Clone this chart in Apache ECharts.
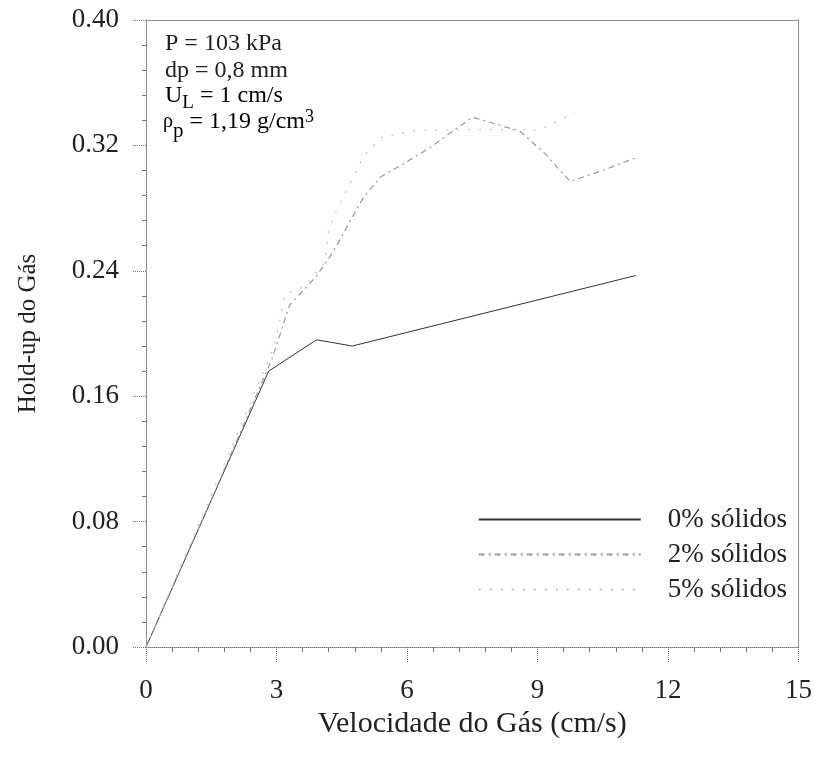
<!DOCTYPE html>
<html>
<head>
<meta charset="utf-8">
<script src="https://cdn.jsdelivr.net/npm/echarts@6/dist/echarts.min.js"></script>
<style>
html,body{margin:0;padding:0;background:#fff;}
#c{width:815px;height:759px;}
</style>
</head>
<body>
<div id="c"></div>
<script>
const seriesNames = ['0% sólidos', '2% sólidos', '5% sólidos'];
const xTicks = [0, 3, 6, 9, 12, 15];
const yTicks = [0.00, 0.08, 0.16, 0.24, 0.32, 0.40];

const solids0 = [[0,0],[2.82,0.176],[3.92,0.196],[4.74,0.192],[11.26,0.237]];
const solids2 = [[0,0],[1.5,0.094],[2.9,0.184],[3.3,0.218],[3.9,0.236],[4.3,0.252],[4.6,0.267],[5.0,0.287],[5.4,0.300],[5.9,0.308],[6.5,0.318],[7.1,0.330],[7.5,0.338],[8.0,0.334],[8.6,0.329],[9.2,0.314],[9.75,0.297],[10.5,0.304],[11.25,0.312]];
const solids5 = [[0,0],[1.5,0.097],[2.95,0.192],[3.2,0.225],[3.65,0.230],[4.1,0.245],[4.2,0.267],[4.4,0.280],[4.7,0.296],[5.0,0.313],[5.4,0.325],[5.9,0.328],[6.3,0.330],[9.05,0.330],[9.3,0.333],[9.85,0.341]];

const annotation = ['P = 103 kPa', 'dp = 0,8 mm'];

const serif = '"Liberation Serif", "DejaVu Serif", serif';
const chart = echarts.init(document.getElementById('c'), null, {renderer: 'canvas'});

const frameLine = {show: true, onZero: false, lineStyle: {color: '#777', width: 1, type: [1, 1]}};

chart.setOption({
  backgroundColor: '#fff',
  animation: false,
  textStyle: {fontFamily: serif},
  grid: {left: 146, right: 13, top: 20, bottom: 112, containLabel: false},
  legend: {
    orient: 'vertical',
    right: 23,
    top: 501,
    itemWidth: 162,
    itemHeight: 14,
    itemGap: 8,
    itemStyle: {opacity: 0},
    lineStyle: {opacity: 1},
    textStyle: {fontFamily: serif, fontSize: 27, color: '#222', padding: [0, 0, 0, 22]},
    data: seriesNames
  },
  xAxis: [{
    type: 'value', min: 0, max: 15, interval: 3,
    name: 'Velocidade do Gás (cm/s)', nameLocation: 'middle', nameGap: 51,
    nameTextStyle: {fontFamily: serif, fontSize: 30, color: '#222'},
    axisLine: frameLine,
    axisTick: {show: true, inside: false, length: 15, lineStyle: {color: '#777', type: [1,1]}},
    minorTick: {show: true, splitNumber: 5, length: 5, lineStyle: {color: '#777'}},
    axisLabel: {fontFamily: serif, fontSize: 27, color: '#222', margin: 30,
      formatter: v => xTicks.includes(v) ? String(v) : ''},
    splitLine: {show: false}
  }, {
    type: 'value', min: 0, max: 15, position: 'top',
    axisLine: frameLine, axisTick: {show: false}, axisLabel: {show: false}, splitLine: {show: false}
  }],
  yAxis: [{
    type: 'value', min: 0, max: 0.4, interval: 0.08,
    name: 'Hold-up do Gás', nameLocation: 'middle', nameGap: 105, nameRotate: 90,
    nameTextStyle: {fontFamily: serif, fontSize: 25, color: '#222'},
    axisLine: frameLine,
    axisTick: {show: true, inside: false, length: 14, lineStyle: {color: '#777', type: [1,1]}},
    minorTick: {show: true, splitNumber: 5, length: 4, lineStyle: {color: '#777'}},
    axisLabel: {fontFamily: serif, fontSize: 27, color: '#222', margin: 27,
      formatter: v => yTicks.some(t => Math.abs(t - v) < 1e-9) ? v.toFixed(2) : ''},
    splitLine: {show: false}
  }, {
    type: 'value', min: 0, max: 0.4, position: 'right',
    axisLine: frameLine, axisTick: {show: false}, axisLabel: {show: false}, splitLine: {show: false}
  }],
  series: [
    {name: seriesNames[0], type: 'line', data: solids0, symbol: 'none', smooth: false,
      lineStyle: {color: '#333', width: 1}, itemStyle: {color: '#333'}},
    {name: seriesNames[1], type: 'line', data: solids2, symbol: 'none', smooth: false,
      lineStyle: {color: '#9a9a9a', width: 1.2, type: [6, 4, 2, 4]}, itemStyle: {color: '#9a9a9a'}},
    {name: seriesNames[2], type: 'line', data: solids5, symbol: 'none', smooth: false,
      lineStyle: {color: '#c0c0c0', width: 1.2, type: [2, 9]}, itemStyle: {color: '#c0c0c0'}}
  ],
  graphic: [
    {type: 'text', left: 165, top: 32, style: {text: annotation[0], font: '24px ' + serif, fill: '#222'}},
    {type: 'text', left: 165, top: 59, style: {text: annotation[1], font: '24px ' + serif, fill: '#222'}},
    {type: 'text', left: 165, top: 84, style: {
      text: '{a|U}{s|L}{a| = 1 cm/s}',
      rich: {a: {fontFamily: serif, fontSize: 24, color: '#222'},
             s: {fontFamily: serif, fontSize: 19, color: '#222', padding: [14, 0, 0, 0]}}}},
    {type: 'text', left: 163, top: 108, style: {
      text: '{r|ρ}{s|p}{a| = 1,19 g/cm}{u|3}',
      rich: {a: {fontFamily: serif, fontSize: 24, color: '#222'},
             r: {fontFamily: serif, fontSize: 20, color: '#aaa'},
             s: {fontFamily: serif, fontSize: 21, color: '#222', padding: [18, 0, 0, 0]},
             u: {fontFamily: serif, fontSize: 18, color: '#222', padding: [0, 0, 10, 0]}}}}
  ]
});
</script>
</body>
</html>
